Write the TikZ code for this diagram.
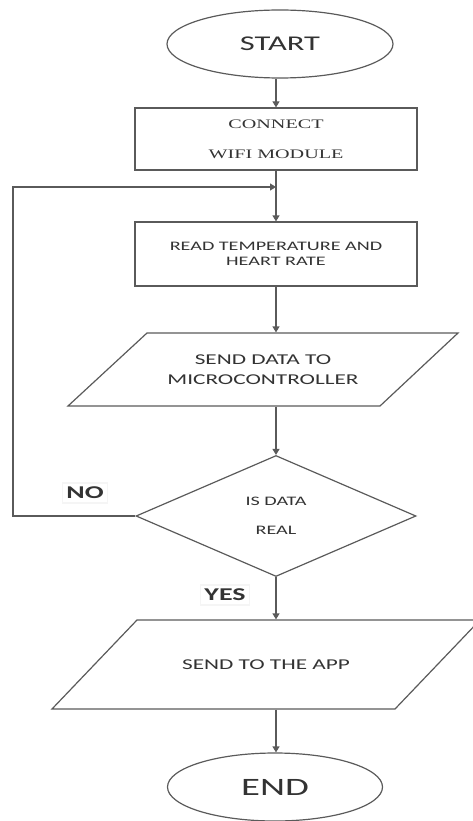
\documentclass[tikz,border=0pt]{standalone}
\usepackage{fontspec}
\usepackage{tikz}
\usetikzlibrary{shapes.geometric,arrows.meta}
\newfontfamily\chartfont[FakeStretch=1.55]{Carlito}
\newfontfamily\boxfont[FakeStretch=1.55]{Liberation Serif}
\definecolor{linegray}{HTML}{5A5A5A}
\definecolor{textgray}{HTML}{333333}

\begin{document}
\begin{tikzpicture}[x=1pt, y=-1pt, line width=1.2pt, >={Triangle[length=6pt,width=7pt]},
		term_style/.style={ellipse,draw=linegray,inner sep=0pt,text=textgray,font=\chartfont},
		box_style/.style={rectangle,draw=linegray,minimum width=282pt,inner sep=0pt,align=center,text=textgray},
		io_style/.style={rectangle,inner sep=0pt,align=center,text=textgray},
		io_edge/.style={draw=linegray,line join=miter},
		dec_style/.style={diamond,draw=linegray,inner sep=0pt,align=center,text=textgray},
		label_style/.style={draw=black!4,fill=white,inner sep=4pt,text=textgray,font=\chartfont\bfseries\fontsize{18}{20}\selectfont},
		edge_style/.style={draw=linegray,->}]
		
		\useasboundingbox (0,0) rectangle (472,821);
		
		\node[term_style, minimum width=226pt, minimum height=68pt, font=\chartfont\fontsize{21}{25}\selectfont] (start) at (280,44) {START};
		\node[box_style, minimum height=62pt, font=\boxfont\fontsize{13}{30}\selectfont] (connect) at (276,139) {CONNECT\\WIFI MODULE};
		\node[box_style, minimum height=64pt, font=\chartfont\fontsize{13}{15}\selectfont] (read) at (276,254) {READ TEMPERATURE AND\\HEART RATE};
		\node[io_style, minimum width=311pt, minimum height=73pt, font=\chartfont\fontsize{15}{20}\selectfont] (data) at (263,369.5) {SEND DATA TO\\MICROCONTROLLER};
		\node[dec_style, minimum width=280pt, minimum height=121pt, font=\chartfont\fontsize{13}{29}\selectfont] (check) at (276,516) {IS DATA\\REAL};
		\node[io_style, minimum width=343pt, minimum height=89pt, font=\chartfont\fontsize{15}{18}\selectfont] (app) at (266,664.5) {SEND TO THE APP};
		\node[term_style, minimum width=215pt, minimum height=68pt, font=\chartfont\fontsize{25}{30}\selectfont] (end) at (275,787) {END};
		
		\node[label_style] (no) at (85,493) {NO};
		\node[label_style] (yes) at (225,595) {YES};
		
		% parallelogram outlines round the two data nodes
		\draw[io_edge] (147,333) -- (458,333) -- (380,406) -- (68,406) -- cycle;
		\draw[io_edge] (137,620) -- (480,620) -- (395,709) -- (52,709) -- cycle;
		
		\coordinate (back) at (13,516);
		\coordinate (top) at (13,187);
		\coordinate (join) at (276,187);
		
		\draw[edge_style]  (connect.north |- start.south) -- (connect.north);
		\draw[edge_style]  (connect.south) -- (read.north);
		\draw[edge_style]  (read.south) -- (read.south |- data.north);
		\draw[edge_style]  (read.south |- data.south) -- (check.north);
		\draw[edge_style]  (check.south) -- (check.south |- app.north);
		\draw[edge_style]  (check.south |- app.south) -- (check.south |- end.north);
		\draw[edge_style]  (check.west) -- (back) -- (top) -- (join);
		
\end{tikzpicture}
\end{document}
